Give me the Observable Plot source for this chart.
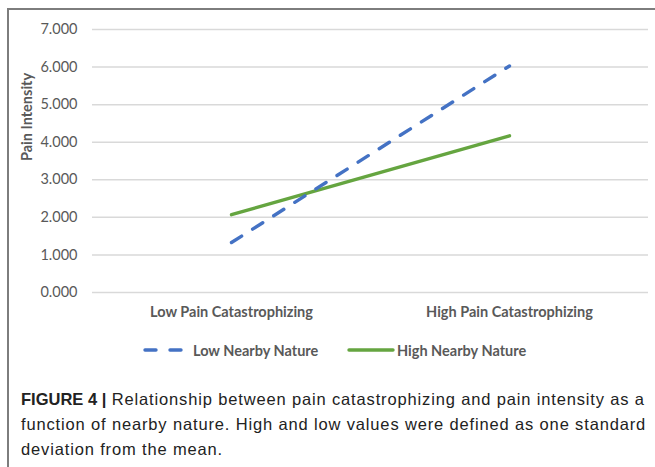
<!DOCTYPE html>
<html><head><meta charset="utf-8">
<script src="https://cdn.jsdelivr.net/npm/d3@7"></script>
<script src="https://cdn.jsdelivr.net/npm/@observablehq/plot@0.6"></script>
<style>
body{margin:0;background:#fff;width:655px;height:467px;overflow:hidden;position:relative;}
#frame{position:absolute;left:7px;top:8px;width:650px;height:470px;border-left:2px solid #7d7d7d;border-top:2px solid #7d7d7d;box-sizing:border-box;}
#chart{position:absolute;left:10px;top:11px;}
.leg{position:absolute;top:341px;height:18px;display:flex;align-items:center;font-family:Lato,sans-serif;font-weight:bold;font-size:14.5px;color:#595959;}
#caption{position:absolute;left:21px;top:387px;width:634px;font-family:"Liberation Sans",Arial,sans-serif;font-size:16.5px;line-height:25px;color:#222;}
#caption div{white-space:nowrap;}
#caption .fig{font-weight:bold;}
#caption .txt{letter-spacing:0.85px;}
</style></head>
<body>
<div id="frame"></div>
<div id="chart"></div>
<div class="leg" id="leg1" style="left:143px"></div>
<div class="leg" id="leg2" style="left:347px"></div>
<div id="caption">
<div><span class="fig">FIGURE 4 |</span><span class="txt"> Relationship between pain catastrophizing and pain intensity as a</span></div>
<div><span class="txt">function of nearby nature. High and low values were defined as one standard</span></div>
<div><span class="txt">deviation from the mean.</span></div>
</div>
<script>
const categories = ["Low Pain Catastrophizing", "High Pain Catastrophizing"];
const seriesNames = ["Low Nearby Nature", "High Nearby Nature"];
const lowNature = [1.33, 6.03];
const highNature = [2.07, 4.17];
const yTicks = [0, 1, 2, 3, 4, 5, 6, 7];
const yLabel = "Pain Intensity";

const colors = {"Low Nearby Nature": "#4472C4", "High Nearby Nature": "#65A540"};
const rows = [];
categories.forEach((c, i) => {
  rows.push({cat: c, series: seriesNames[0], value: lowNature[i]});
  rows.push({cat: c, series: seriesNames[1], value: highNature[i]});
});

const chart = Plot.plot({
  width: 645, height: 310,
  marginLeft: 82, marginRight: 7, marginTop: 18, marginBottom: 29,
  style: {fontFamily: "Lato, sans-serif", fontSize: "14.5px", color: "#595959", background: "transparent"},
  x: {type: "point", domain: categories, padding: 0.5, label: null},
  y: {domain: [0, 7], label: null},
  marks: [
    Plot.ruleY(yTicks, {stroke: "#d9d9d9", strokeWidth: 1.5}),
    Plot.axisY({ticks: yTicks, tickSize: 0, tickPadding: 15, tickFormat: d3.format(".3f"), label: null, fontSize: 14.5}),
    Plot.axisX({tickSize: 0, tickPadding: 14, fontWeight: "bold", label: null, fontSize: 14.5}),
    Plot.text([yLabel], {frameAnchor: "left", dx: -65, rotate: -90, fontWeight: "bold", fill: "#595959", fontSize: 14.5}),
    Plot.lineY(rows.filter(d => d.series === seriesNames[1]), {x: "cat", y: "value", stroke: colors[seriesNames[1]], strokeWidth: 3.4, strokeLinecap: "round"}),
    Plot.lineY(rows.filter(d => d.series === seriesNames[0]), {x: "cat", y: "value", stroke: colors[seriesNames[0]], strokeWidth: 3.4, strokeDasharray: "12,13", strokeLinecap: "round"})
  ]
});
document.getElementById("chart").appendChild(chart);

function legendItem(el, name, dashed, w, gap) {
  const svg = d3.create("svg").attr("width", w).attr("height", 18).style("margin-right", gap + "px");
  svg.append("line").attr("x1", 2).attr("x2", w - 2).attr("y1", 9).attr("y2", 9)
    .attr("stroke", colors[name]).attr("stroke-width", 3.4).attr("stroke-linecap", "round")
    .attr("stroke-dasharray", dashed ? "11,14" : null);
  el.appendChild(svg.node());
  const s = document.createElement("span"); s.textContent = name; el.appendChild(s);
}
legendItem(document.getElementById("leg1"), seriesNames[0], true, 42, 8);
legendItem(document.getElementById("leg2"), seriesNames[1], false, 48, 2);
</script>
</body></html>
